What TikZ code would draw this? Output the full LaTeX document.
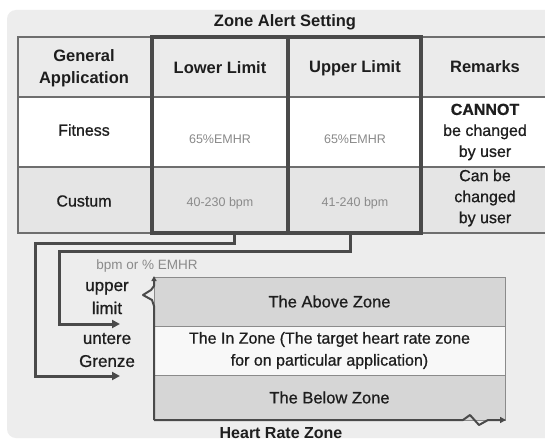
\documentclass[tikz,border=0pt]{standalone}
\usepackage{fontspec}
\setmainfont{Liberation Sans}
\newfontfamily\medfont[FakeBold=0.8]{Liberation Sans}
\usetikzlibrary{arrows.meta}

\definecolor{panel}{HTML}{EDEDED}
\definecolor{headfill}{HTML}{EBEBEB}
\definecolor{rowgray}{HTML}{E5E5E5}
\definecolor{gridline}{HTML}{6E6E6E}
\definecolor{heavyline}{HTML}{4A4A4A}
\definecolor{ink}{HTML}{1E1E1E}
\definecolor{faint}{HTML}{8A8A8A}
\definecolor{zonegray}{HTML}{D6D6D6}
\definecolor{zonelight}{HTML}{F8F8F8}

\begin{document}
\begin{tikzpicture}[x=1pt, y=-1pt,
  gridrule/.style={draw=gridline, line width=1.3pt},
  heavybox/.style={draw=heavyline, line width=4pt},
  hdr/.style={font=\fontsize{16.5}{22}\selectfont\bfseries, text=ink, align=center},
  cell/.style={font=\medfont\fontsize{16}{21}\selectfont, text=ink, align=center},
  val/.style={font=\fontsize{12.5}{15}\selectfont, text=faint},
  side/.style={font=\medfont\fontsize{17}{23}\selectfont, text=ink, align=center},
  zone/.style={draw=gridline!80, line width=0.9pt, minimum width=351pt, inner sep=0pt,
               font=\medfont\fontsize{16.5}{22}\selectfont, text=ink, align=center},
  conn/.style={draw=heavyline, line width=3pt, -{Triangle[length=8pt,width=8pt]}},
  axisline/.style={draw=heavyline, line width=2pt, line join=round},
]
\useasboundingbox (0,0) rectangle (545,441);
\clip (0,0) rectangle (545,441);
\fill[white] (0,0) rectangle (545,441);
\fill[panel, rounded corners=9pt] (7,10) rectangle (580,438);

% title
\node[hdr] (title) at (285,22) {Zone Alert Setting};

% table rows
\fill[headfill] (18,37) rectangle (560,97);
\fill[white] (18,97) rectangle (560,167);
\fill[rowgray] (18,167) rectangle (560,233);
\draw[gridrule] (560,37) -- (18,37) -- (18,233) -- (560,233);
\draw[gridrule] (18,97) -- (560,97);
\draw[gridrule] (18,167) -- (560,167);

% limit columns
\draw[heavybox] (152,37) rectangle (288,233);
\draw[heavybox] (288,37) rectangle (421,233);

% header row
\node[hdr] (hgen) at (84,68) {General\\Application};
\node[hdr] (hlow) at (220,68) {Lower Limit};
\node[hdr] (hup) at (355,68) {Upper Limit};
\node[hdr] (hrem) at (485,67) {Remarks};

% fitness row
\node[cell] (fit) at (84,130) {Fitness};
\node[val] (fitlow) at (220,139) {65\%EMHR};
\node[val] (fitup) at (355,139) {65\%EMHR};
\node[cell] (fitrem) at (485,132)
  {{\bfseries CANNOT}\\be changed\\by user};

% custom row
\node[cell] (cus) at (84,201) {Custum};
\node[val] (cuslow) at (220,203) {40-230 bpm};
\node[val] (cusup) at (355,203) {41-240 bpm};
\node[cell] (cusrem) at (485,198) {Can be\\changed\\by user};

% heart rate zones
\node[zone, fill=zonegray, minimum height=49pt] (above) at (329.5,301.5) {The Above Zone};
\node[zone, fill=zonelight, minimum height=49pt, font=\medfont\fontsize{16}{22}\selectfont]
  (inzone) at (329.5,350.5)
  {The In Zone (The target heart rate zone\\for on particular application)};
\node[zone, fill=zonegray, minimum height=45pt] (below) at (329.5,397.5) {The Below Zone};

% axes with break marks
\coordinate (origin) at (154,420);
\draw[axisline, -{Triangle[length=5pt,width=5pt]}]
  (origin) -- (154,306) -- (152,300) -- (143,295) -- (151,290) -- (154,286) -- (154,276);
\draw[axisline, -{Triangle[length=6pt,width=6pt]}]
  (origin) -- (463,420) -- (470,415) -- (479,425) -- (488,420) -- (506,420);

% side labels
\node[val, font=\fontsize{13.5}{16}\selectfont] (unit) at (147,266) {bpm or \% EMHR};
\node[side] (upperlbl) at (107,298) {upper\\limit};
\node[side] (lowerlbl) at (107,350) {untere\\Grenze};
\coordinate (upperend) at (120,324);
\coordinate (lowerend) at (120,376);

% connectors from the limit columns
\coordinate (lowfoot) at (234,235);
\coordinate (upfoot) at (350,235);
\draw[conn] (lowfoot) -- (234,243) -- (35,243) -- (35,376) -- (lowerend);
\draw[conn] (upfoot) -- (350,251) -- (59,251) -- (59,324) -- (upperend);

\node[hdr, font=\fontsize{16}{20}\selectfont\bfseries] (hrz) at (281,433) {Heart Rate Zone};
\end{tikzpicture}
\end{document}
